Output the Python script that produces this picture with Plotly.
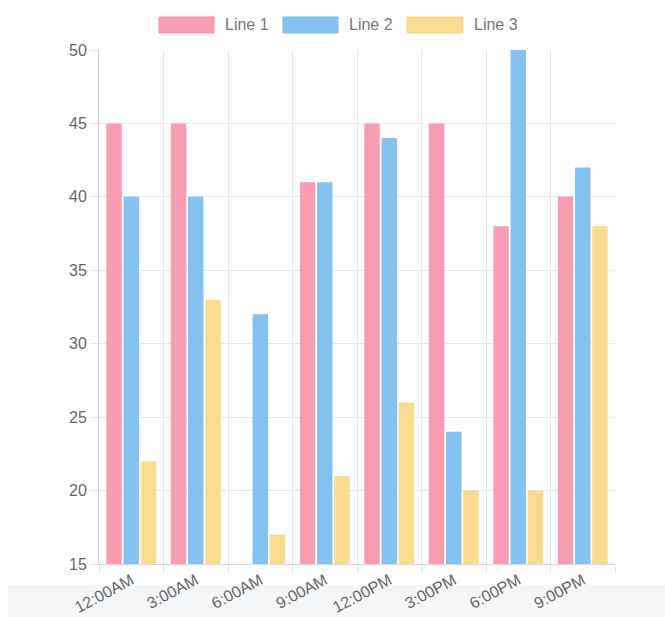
import plotly.graph_objects as go

categories = ["12:00AM", "3:00AM", "6:00AM", "9:00AM", "12:00PM", "3:00PM", "6:00PM", "9:00PM"]
line1 = [45, 45, 15, 41, 45, 45, 38, 40]
line2 = [40, 40, 32, 41, 44, 24, 50, 42]
line3 = [22, 33, 17, 21, 26, 20, 20, 38]
series_names = ["Line 1", "Line 2", "Line 3"]

fills = ["#f89db2", "#84c3f0", "#fbdb90"]
borders = ["#f592a8", "#78bbee", "#f9d483"]

W, H = 665, 617
L, R, T, B = 99, 615, 50, 564
pw, ph = R - L, B - T


def px(x):
    return (x - L) / pw


def py(y):
    return (B - y) / ph


fig = go.Figure()
for name, vals, f in zip(series_names, [line1, line2, line3], fills):
    fig.add_trace(go.Bar(x=categories, y=vals, name=name,
                         marker=dict(color=f, line=dict(width=0))))

shapes = [
    dict(type="rect", xref="paper", yref="paper", x0=px(8), x1=px(665), y0=py(617), y1=py(585),
         fillcolor="#f5f6f8", line=dict(width=0), layer="below"),
]
annotations = []
box_x = [(159, 214), (283, 338), (407, 463)]
text_x = [223, 347, 472]
for (x0, x1), tx, name, f, b in zip(box_x, text_x, series_names, fills, borders):
    shapes.append(dict(type="rect", xref="paper", yref="paper", x0=px(x0), x1=px(x1),
                       y0=py(33), y1=py(17), fillcolor=f, line=dict(color=b, width=1)))
    annotations.append(dict(xref="paper", yref="paper", x=px(tx), y=py(25), text=name,
                            showarrow=False, xanchor="left", yanchor="middle",
                            font=dict(size=16, color="#777777", family="Liberation Sans")))

fig.update_layout(
    width=W, height=H,
    margin=dict(l=L, r=W - R, t=T, b=H - B),
    paper_bgcolor="white", plot_bgcolor="white",
    showlegend=False,
    bargap=0.2, bargroupgap=0.1, barmode="group",
    font=dict(family="Liberation Sans", size=16, color="#666666"),
    shapes=shapes, annotations=annotations,
)
fig.update_xaxes(range=[-0.5, 7.5], tickson="boundaries", showgrid=True, gridcolor="#e6e6e6",
                 ticks="outside", ticklen=8, tickcolor="#e6e6e6", tickangle=-28,
                 showline=True, linecolor="#d6d6d6", mirror=False, automargin=False,
                 tickfont=dict(size=16, color="#666666"))
fig.update_yaxes(range=[15, 50], dtick=5, showgrid=True, gridcolor="#e8e8e8",
                 ticks="outside", ticklen=8, tickcolor="#e8e8e8", automargin=False,
                 showline=True, linecolor="#d0d0d0", zeroline=False,
                 tickfont=dict(size=16, color="#666666"))

fig.write_html("out.html")
